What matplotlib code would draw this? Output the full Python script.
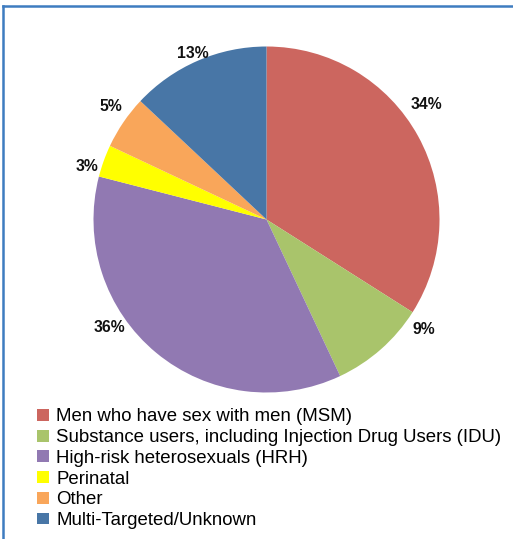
import numpy as np
import matplotlib
matplotlib.use("Agg")
import matplotlib.pyplot as plt
from matplotlib.lines import Line2D
from matplotlib.patches import Patch

plt.rcParams["font.family"] = ["Liberation Sans", "DejaVu Sans"]

groups = [
    "Men who have sex with men (MSM)",
    "Substance users, including Injection Drug Users (IDU)",
    "High-risk heterosexuals (HRH)",
    "Perinatal",
    "Other",
    "Multi-Targeted/Unknown",
]
shares = [34, 9, 36, 3, 5, 13]
colors = ["#CC665F", "#A9C46B", "#9179B2", "#FFFF00", "#F9A65A", "#4876A6"]

# label placement (angle in degrees, radius) like the original's best-fit
label_pos = [(35.7, 1.14), (-35.1, 1.11), (-145.5, 1.10),
             (163.5, 1.08), (144.1, 1.11), (113.8, 1.05)]

fig = plt.figure(figsize=(5.13, 5.39), dpi=100)
W, H = 513, 539
cx, cy, r = 266.5, 219.5, 173
ax = fig.add_axes([(cx - r) / W, (H - cy - r) / H, 2 * r / W, 2 * r / H])

wedges, texts, autotexts = ax.pie(
    shares, colors=colors, startangle=90, counterclock=False,
    autopct="%d%%", pctdistance=1.12,
    textprops=dict(fontsize=11.3, fontweight="bold", color="#111111"),
)
for t, (ang, rad) in zip(autotexts, label_pos):
    a = np.deg2rad(ang)
    t.set_position((rad * np.cos(a), rad * np.sin(a)))
    t.set_ha("center")
    t.set_va("center")
ax.set_xlim(-1, 1)
ax.set_ylim(-1, 1)
ax.set_aspect("equal")
ax.axis("off")

handles = [Patch(facecolor=c, edgecolor="none") for c in colors]
fig.legend(handles, groups, loc="upper left", bbox_to_anchor=(30 / W, 1 - 401 / H),
           frameon=False, fontsize=13.4, handlelength=0.6, handleheight=0.6,
           handletextpad=0.4, labelspacing=0.2, borderaxespad=0)

# frame around the chart area (top and left edges visible)
fig.add_artist(Line2D([3 / W, 1], [1 - 6 / H, 1 - 6 / H], color="#3E7CC0", lw=1.8))
fig.add_artist(Line2D([3 / W, 3 / W], [0, 1 - 6 / H], color="#3E7CC0", lw=1.8))

fig.savefig("out.png", dpi=100)
